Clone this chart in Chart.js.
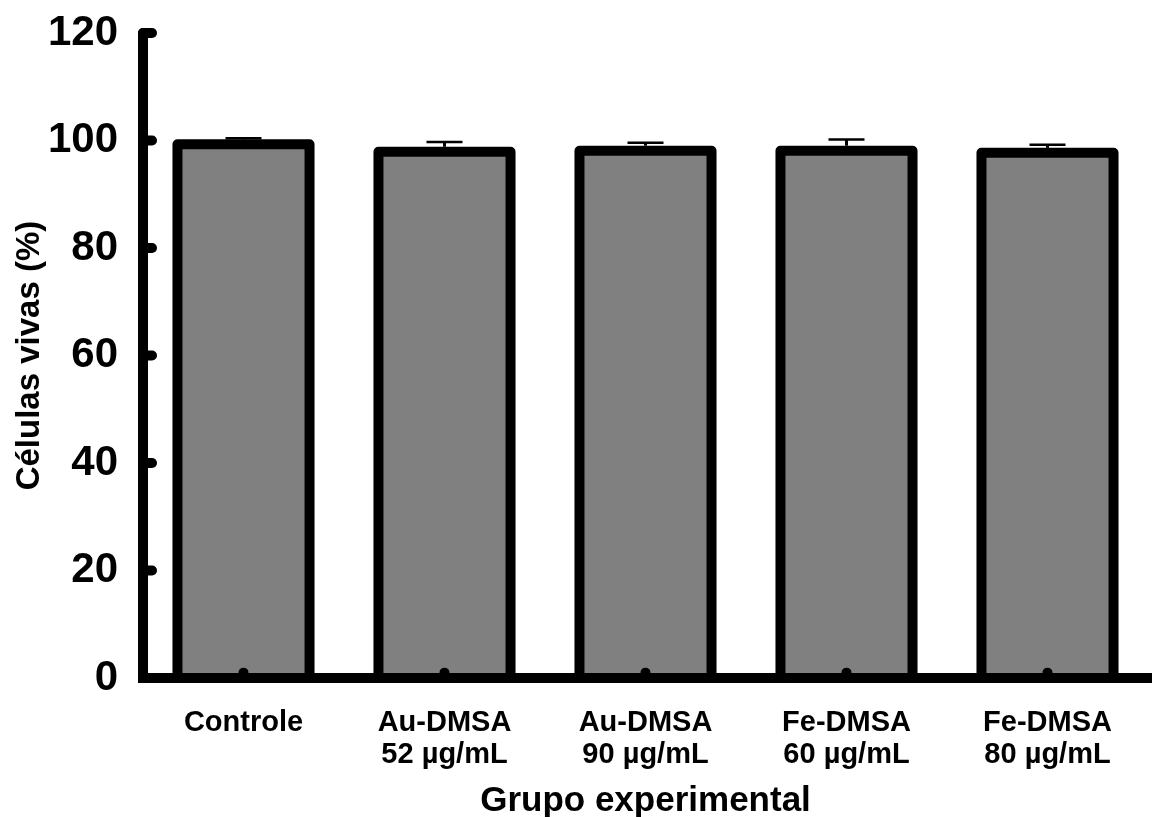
<!DOCTYPE html>
<html>
<head>
<meta charset="utf-8">
<script src="https://cdn.jsdelivr.net/npm/chart.js@4.4.1/dist/chart.umd.min.js"></script>
<style>
  html, body { margin: 0; padding: 0; background: #fff; }
</style>
</head>
<body>
<canvas id="chart" width="1154" height="817"></canvas>
<script>
// values
const groups = ['Controle', ['Au-DMSA', '52 µg/mL'], ['Au-DMSA', '90 µg/mL'], ['Fe-DMSA', '60 µg/mL'], ['Fe-DMSA', '80 µg/mL']];
const viability = [99.3, 97.9, 98.1, 98.1, 97.7];
const errorUp = [1.1, 1.8, 1.5, 2.1, 1.5];
const baseDots = [1, 1, 1, 1, 1];
const yTicks = [0, 20, 40, 60, 80, 100, 120];

const FONT = "'Liberation Sans', Arial, sans-serif";

// outlines, error bars and axes drawn the SigmaPlot way (stroke centred on the edge)
const sigmaStyle = {
  id: 'sigmaStyle',
  afterDatasetsDraw(chart) {
    const ctx = chart.ctx;
    const area = chart.chartArea;
    const y = chart.scales.y;
    const meta = chart.getDatasetMeta(0);
    ctx.save();
    ctx.strokeStyle = '#000';

    // bar outlines
    ctx.lineWidth = 10;
    ctx.lineJoin = 'round';
    meta.data.forEach(bar => {
      const p = bar.getProps(['x', 'y', 'base', 'width'], true);
      ctx.strokeRect(p.x - p.width / 2, p.y, p.width, p.base - p.y);
    });

    // upper error bars
    meta.data.forEach((bar, i) => {
      const p = bar.getProps(['x', 'y'], true);
      const top = y.getPixelForValue(viability[i] + errorUp[i]);
      ctx.lineWidth = 3;
      ctx.beginPath();
      ctx.moveTo(p.x, p.y - 5);
      ctx.lineTo(p.x, top);
      ctx.stroke();
      ctx.lineWidth = 2.5;
      ctx.beginPath();
      ctx.moveTo(p.x - 18, top);
      ctx.lineTo(p.x + 18, top);
      ctx.stroke();
    });

    // axes
    const y0 = y.getPixelForValue(0);
    ctx.lineWidth = 10;
    ctx.lineCap = 'butt';
    ctx.beginPath();
    ctx.moveTo(area.left - 5, y0);
    ctx.lineTo(chart.width - 2, y0);
    ctx.stroke();
    ctx.lineCap = 'round';
    ctx.beginPath();
    ctx.moveTo(area.left, y0);
    ctx.lineTo(area.left, area.top);
    ctx.stroke();

    // inward tick bumps
    yTicks.forEach(v => {
      const py = y.getPixelForValue(v);
      ctx.beginPath();
      ctx.moveTo(area.left, py);
      ctx.lineTo(area.left + 9, py);
      ctx.stroke();
    });
    ctx.restore();
  }
};

new Chart(document.getElementById('chart'), {
  data: {
    labels: groups,
    datasets: [
      {
        type: 'bar',
        label: 'Células vivas',
        data: viability,
        backgroundColor: '#808080',
        borderWidth: 0,
        barPercentage: 0.657,
        categoryPercentage: 1.0,
        order: 2
      },
      {
        type: 'line',
        label: 'base',
        data: baseDots,
        showLine: false,
        pointRadius: 5,
        pointBackgroundColor: '#000',
        pointBorderWidth: 0,
        order: 1
      }
    ]
  },
  options: {
    responsive: false,
    animation: false,
    devicePixelRatio: 1,
    layout: { padding: { top: 33, right: 6, left: 0, bottom: 0 } },
    plugins: {
      legend: { display: false },
      tooltip: { enabled: false }
    },
    scales: {
      x: {
        grid: { display: false },
        border: { display: false },
        ticks: {
          color: '#000',
          padding: 21,
          maxRotation: 0,
          autoSkip: false,
          font: { family: FONT, size: 29, weight: 'bold', lineHeight: 1.1 }
        },
        title: {
          display: true,
          text: 'Grupo experimental',
          color: '#000',
          padding: { top: 0, bottom: 0 },
          font: { family: FONT, size: 35, weight: 'bold', lineHeight: 0.9 }
        },
        afterFit(scale) { scale.height = 139; }
      },
      y: {
        min: 0,
        max: 120,
        grid: { display: false, drawTicks: false },
        border: { display: false },
        afterBuildTicks(scale) { scale.ticks = yTicks.map(v => ({ value: v })); },
        ticks: {
          color: '#000',
          padding: 25,
          font: { family: FONT, size: 42, weight: 'bold' }
        },
        title: {
          display: true,
          text: 'Células vivas (%)',
          color: '#000',
          padding: { top: 10, bottom: 0 },
          font: { family: FONT, size: 33, weight: 'bold', lineHeight: 1.2 }
        },
        afterFit(scale) {
          scale.width = 143;
          scale.paddingTop = 0;
          scale.paddingBottom = 0;
        }
      }
    }
  },
  plugins: [sigmaStyle]
});
</script>
</body>
</html>
